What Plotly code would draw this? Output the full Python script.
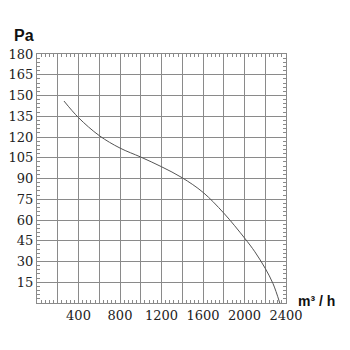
import plotly.graph_objects as go

# Data
flow = [260, 400, 600, 800, 1000, 1200, 1400, 1600, 1800, 2000, 2100, 2200, 2275, 2340]
pressure = [146, 134, 121, 112, 105.5, 98.5, 90.5, 80, 65, 47, 37, 25, 14, 0]

x_grid = list(range(0, 2401, 200))
x_labels = ["" if (v % 400 or v == 0) else str(v) for v in x_grid]
y_grid = list(range(0, 181, 15))
y_labels = ["" if v == 0 else str(v) for v in y_grid]

fig = go.Figure()
fig.add_trace(go.Scatter(x=flow, y=pressure, mode="lines",
                         line=dict(color="#555", width=1, shape="spline", smoothing=1.0),
                         hoverinfo="skip", showlegend=False))

tickfont = dict(family="DejaVu Serif", size=13, color="#222")
fig.update_layout(
    width=342, height=342,
    margin=dict(l=29, r=64, t=46, b=47),
    paper_bgcolor="white", plot_bgcolor="white",
    xaxis=dict(range=[0, 2400], tickmode="array", tickvals=x_grid, ticktext=x_labels, tickangle=0,
               automargin=False,
               showgrid=True, gridcolor="#8a8a8a", gridwidth=1,
               showline=True, linecolor="#8a8a8a", linewidth=1, mirror="ticks",
               ticks="inside", ticklen=3, tickcolor="#8a8a8a",
               minor=dict(dtick=40, tick0=0, ticks="inside", ticklen=3, tickcolor="#8a8a8a", showgrid=False),
               tickfont=tickfont, zeroline=False, fixedrange=True),
    yaxis=dict(range=[0, 180], tickmode="array", tickvals=y_grid, ticktext=y_labels,
               automargin=False,
               showgrid=True, gridcolor="#8a8a8a", gridwidth=1,
               showline=True, linecolor="#8a8a8a", linewidth=1, mirror="ticks",
               ticks="inside", ticklen=3, tickcolor="#8a8a8a",
               minor=dict(dtick=3, tick0=0, ticks="inside", ticklen=3, tickcolor="#8a8a8a", showgrid=False),
               tickfont=tickfont, zeroline=False, fixedrange=True),
    annotations=[
        dict(text="<b>Pa</b>", xref="paper", yref="paper", x=-0.054, y=1.075, showarrow=False,
             font=dict(family="Liberation Sans", size=16, color="#111"), xanchor="center", yanchor="middle"),
        dict(text="<b>m³ / h</b>", xref="paper", yref="paper", x=1.04, y=0.01, showarrow=False,
             font=dict(family="Liberation Sans", size=14, color="#111"), xanchor="left", yanchor="middle"),
    ],
)
fig.write_html("out.html")
